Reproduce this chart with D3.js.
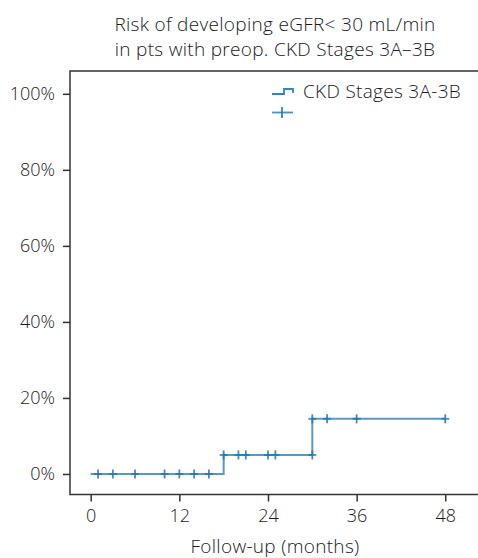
<!DOCTYPE html>
<html>
<head>
<meta charset="utf-8">
<script src="https://cdn.jsdelivr.net/npm/d3@7"></script>
<style>
  html, body { margin: 0; padding: 0; background: #fff; }
  svg { display: block; font-family: "Open Sans", "Noto Sans", sans-serif; font-weight: 350; }
</style>
</head>
<body>
<svg id="chart" width="478" height="558"></svg>
<script>
// Kaplan–Meier style cumulative incidence (step function) for CKD 3A–3B
const titleLines = ["Risk of developing eGFR< 30 mL/min", "in pts with preop. CKD Stages 3A\u20133B"];
const seriesName = "CKD Stages 3A-3B";
const stepTimes = [0, 18, 30, 48];          // months where the curve level changes (last = end of follow-up)
const stepRisk  = [0, 0.05, 0.145, 0.145];  // cumulative risk from each time onward
const censorTimes = [1, 3, 6, 10, 12, 14, 16, 18, 20, 21, 24, 25, 30, 30, 32, 36, 48];
const censorRisk  = [0, 0, 0, 0, 0, 0, 0, 0.05, 0.05, 0.05, 0.05, 0.05, 0.05, 0.145, 0.145, 0.145, 0.145];
const xTicks = [0, 12, 24, 36, 48];
const yTicks = [0, 0.2, 0.4, 0.6, 0.8, 1.0];
const xLabel = "Follow-up (months)";

const svg = d3.select("#chart");
const margin = { left: 70, top: 71, right: 480, bottom: 494.5 };
const color = "#1f77b4";
const fontSize = 19;
const tickFontSize = 18;
const spacing = 0.3;
const textColor = "#1a1a1a";

const x = d3.scaleLinear().domain([-2.8, 52.7]).range([margin.left, margin.right]);
const y = d3.scaleLinear().domain([-0.054, 1.06]).range([margin.bottom, margin.top]);

// Title
svg.selectAll("text.title").data(titleLines).join("text")
  .attr("class", "title")
  .attr("x", 275).attr("y", (d, i) => 31 + i * 25)
  .attr("text-anchor", "middle")
  .attr("font-size", fontSize).attr("letter-spacing", spacing).attr("fill", textColor)
  .text(d => d);

// Frame
svg.append("rect")
  .attr("x", margin.left).attr("y", margin.top)
  .attr("width", margin.right - margin.left).attr("height", margin.bottom - margin.top)
  .attr("fill", "none").attr("stroke", "#333").attr("stroke-width", 1.5);

// Axes
const xAxis = svg.append("g")
  .attr("transform", `translate(0,${margin.bottom})`)
  .call(d3.axisBottom(x).tickValues(xTicks).tickSize(7).tickPadding(8));
const yAxis = svg.append("g")
  .attr("transform", `translate(${margin.left},0)`)
  .call(d3.axisLeft(y).tickValues(yTicks).tickSize(7).tickPadding(8).tickFormat(d3.format(".0%")));
[xAxis, yAxis].forEach(g => {
  g.select(".domain").remove();
  g.selectAll(".tick line").attr("stroke", "#333").attr("stroke-width", 1.5);
  g.selectAll(".tick text").attr("font-size", tickFontSize).attr("fill", textColor)
    .attr("font-family", "\"Open Sans\", \"Noto Sans\", sans-serif")
    .attr("font-weight", 350);
});

// Axis label
svg.append("text")
  .attr("x", 275).attr("y", 553)
  .attr("text-anchor", "middle")
  .attr("font-size", fontSize).attr("letter-spacing", spacing).attr("fill", textColor)
  .text(xLabel);

// Step curve
const steps = stepTimes.map((t, i) => [t, stepRisk[i]]);
const line = d3.line().x(d => x(d[0])).y(d => y(d[1])).curve(d3.curveStepAfter);
svg.append("path")
  .datum(steps)
  .attr("d", line)
  .attr("fill", "none")
  .attr("stroke", color).attr("stroke-opacity", 0.75).attr("stroke-width", 2);

// Censor marks
const censor = censorTimes.map((t, i) => [t, censorRisk[i]]);
const marks = svg.append("g").selectAll("g").data(censor).join("g")
  .attr("transform", d => `translate(${x(d[0])},${y(d[1])})`);
marks.append("line").attr("x1", -4).attr("x2", 4)
  .attr("stroke", color).attr("stroke-opacity", 0.75).attr("stroke-width", 2);
marks.append("line").attr("y1", -4.5).attr("y2", 4.5)
  .attr("stroke", color).attr("stroke-opacity", 0.85).attr("stroke-width", 1.8);

// Legend
const lg = svg.append("g");
lg.append("path")
  .attr("d", "M272,94 H284 V89 H293 V93")
  .attr("fill", "none").attr("stroke", color).attr("stroke-opacity", 0.9).attr("stroke-width", 1.8);
lg.append("text").attr("x", 303).attr("y", 98)
  .attr("font-size", fontSize).attr("letter-spacing", spacing).attr("fill", textColor).text(seriesName);
lg.append("line").attr("x1", 272).attr("x2", 293).attr("y1", 112.5).attr("y2", 112.5)
  .attr("stroke", color).attr("stroke-opacity", 0.8).attr("stroke-width", 1.8);
lg.append("line").attr("x1", 282).attr("x2", 282).attr("y1", 107).attr("y2", 118)
  .attr("stroke", color).attr("stroke-opacity", 0.9).attr("stroke-width", 1.8);
</script>
</body>
</html>
